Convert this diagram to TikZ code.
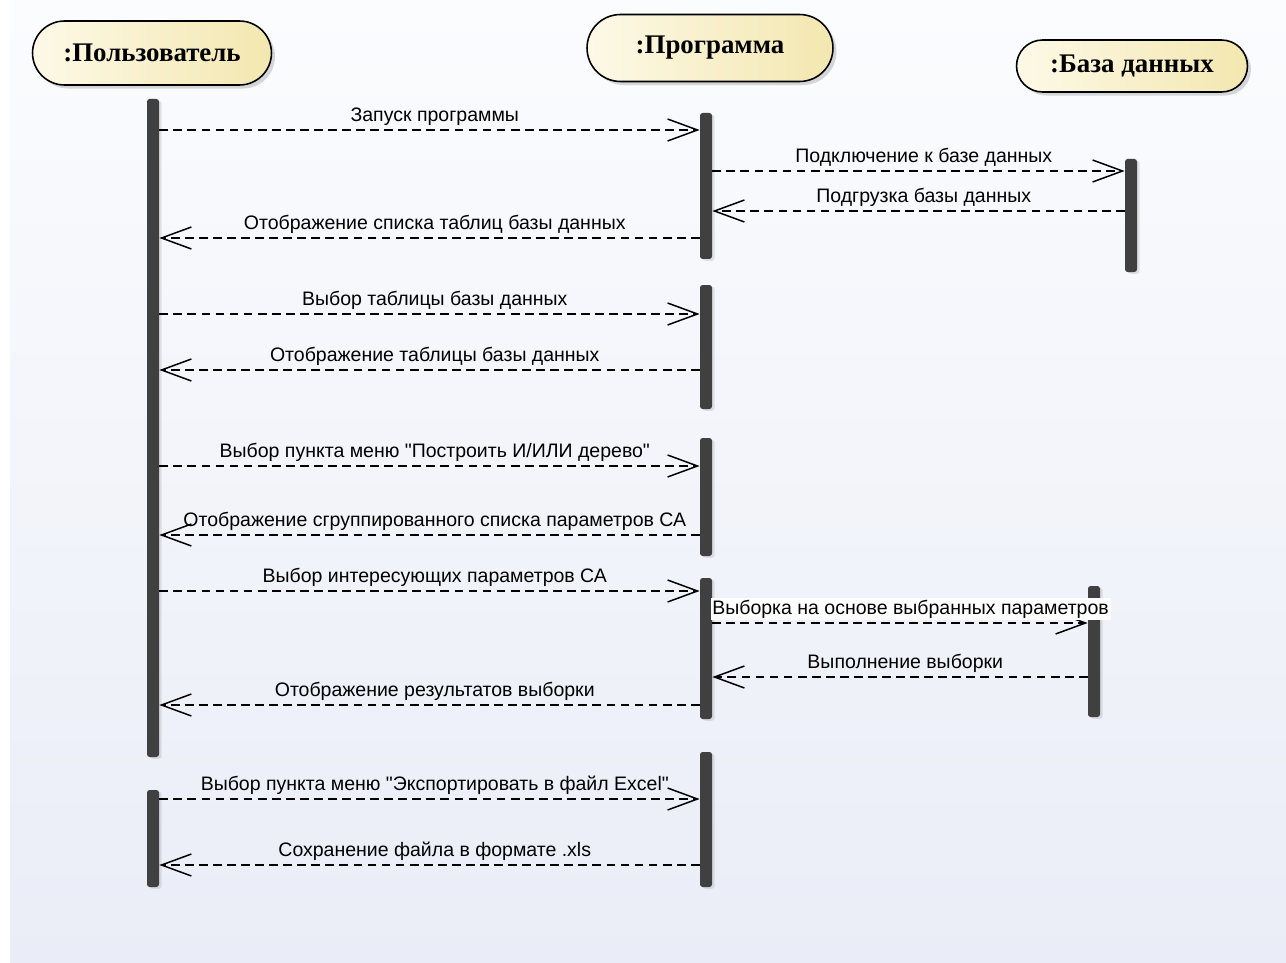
\documentclass[tikz,border=0pt]{standalone}
\usepackage{fontspec}
\setmainfont{Liberation Sans}[Ligatures=TeXOff]
\newfontfamily\headfont{Liberation Serif}
\usepackage{tikz}
\usetikzlibrary{arrows.meta, positioning, shapes.misc, fit, shadows}
\definecolor{bargray}{RGB}{64, 64, 64}
\definecolor{headleft}{RGB}{253, 249, 231}
\definecolor{headright}{RGB}{243, 231, 176}
\definecolor{bgtop}{RGB}{251, 252, 254}
\definecolor{bgbottom}{RGB}{234, 237, 247}

\begin{document}
\begin{tikzpicture}[
  x=0.02cm, y=-0.02cm,
  head/.style={rounded rectangle, draw=black, line width=0.9pt, left color=headleft, right color=headright,
    drop shadow={shadow xshift=2pt, shadow yshift=-2pt, opacity=0.3},
    font=\headfont\bfseries\fontsize{15.3}{18}\selectfont, inner sep=0pt},
  bar/.style={rectangle, fill=bargray, rounded corners=1.5pt, inner sep=0pt,
    drop shadow={shadow xshift=1.5pt, shadow yshift=-1pt, opacity=0.2}},
  call/.style={-{Straight Barb[length=17pt, width=12.5pt]}, line width=0.85pt, dash pattern=on 5pt off 3pt},
  lbl/.style={anchor=base, yshift=5pt, xshift=3pt, inner sep=1pt, font=\fontsize{11.1}{13}\selectfont}
]

\useasboundingbox (0,0) rectangle (1286,963);
\fill[top color=bgtop, bottom color=bgbottom] (10,0) rectangle (1286,963);

% Lifeline heads
\node[head, minimum width=4.78cm, minimum height=1.28cm] (user) at (152, 53)  {:Пользователь};
\node[head, minimum width=4.92cm, minimum height=1.34cm] (prog) at (710, 48)  {:Программа};
\node[head, minimum width=4.62cm, minimum height=1.04cm] (db)   at (1132, 66) {:База данных};

% Activation bars
\node[bar, fit={(147, 99) (159, 757)}]   (u1) {};
\node[bar, fit={(147, 790) (159, 887)}]  (u2) {};
\node[bar, fit={(700, 113) (712, 259)}]  (p1) {};
\node[bar, fit={(700, 285) (712, 409)}]  (p2) {};
\node[bar, fit={(700, 438) (712, 556)}]  (p3) {};
\node[bar, fit={(700, 578) (712, 719)}]  (p4) {};
\node[bar, fit={(700, 752) (712, 887)}]  (p5) {};
\node[bar, fit={(1125, 159) (1137, 272)}] (d1) {};
\node[bar, fit={(1088, 586) (1100, 717)}] (d2) {};

% Start and database loading
\draw[call] (u1.east |- 0,130) -- node[lbl] {Запуск программы} (p1.west |- 0,130);
\draw[call] (p1.east |- 0,171) -- node[lbl] {Подключение к базе данных} (d1.west |- 0,171);
\draw[call] (d1.west |- 0,211) -- node[lbl] {Подгрузка базы данных} (p1.east |- 0,211);
\draw[call] (p1.west |- 0,238) -- node[lbl] {Отображение списка таблиц базы данных} (u1.east |- 0,238);

% Table choice
\draw[call] (u1.east |- 0,314) -- node[lbl] {Выбор таблицы базы данных} (p2.west |- 0,314);
\draw[call] (p2.west |- 0,370) -- node[lbl] {Отображение таблицы базы данных} (u1.east |- 0,370);

% AND/OR tree
\draw[call] (u1.east |- 0,466) -- node[lbl] {Выбор пункта меню "Построить И/ИЛИ дерево"} (p3.west |- 0,466);
\draw[call] (p3.west |- 0,535) -- node[lbl] {Отображение сгруппированного списка параметров СА} (u1.east |- 0,535);

% Selection
\draw[call] (u1.east |- 0,591) -- node[lbl] {Выбор интересующих параметров СА} (p4.west |- 0,591);
\draw[call] (p4.east |- 0,623) -- node[lbl, fill=white, xshift=3pt] {Выборка на основе выбранных параметров} (d2.west |- 0,623);
\draw[call] (d2.west |- 0,677) -- node[lbl] {Выполнение выборки} (p4.east |- 0,677);
\draw[call] (p4.west |- 0,705) -- node[lbl] {Отображение результатов выборки} (u1.east |- 0,705);

% Export
\draw[call] (u2.east |- 0,799) -- node[lbl] {Выбор пункта меню "Экспортировать в файл Excel"} (p5.west |- 0,799);
\draw[call] (p5.west |- 0,865) -- node[lbl] {Сохранение файла в формате .xls} (u2.east |- 0,865);

\end{tikzpicture}
\end{document}
